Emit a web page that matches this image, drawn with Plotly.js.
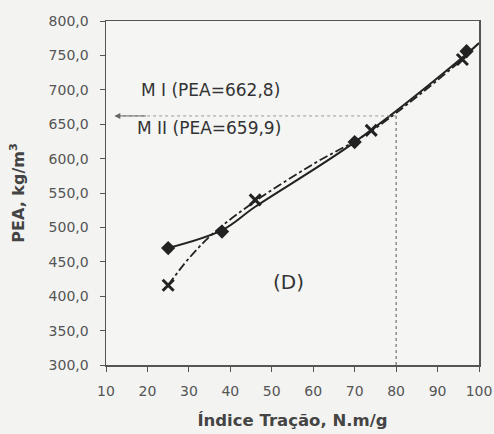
<!DOCTYPE html>
<html><head><meta charset="utf-8">
<script src="https://cdn.plot.ly/plotly-3.0.1.min.js"></script>
<style>html,body{margin:0;padding:0;background:#f3f3f1;}</style>
</head><body><div id="chart" style="width:494px;height:434px;"></div>
<script>
// Series MI (diamonds, solid)
const mI_x = [25, 38, 70, 97];
const mI_y = [470, 494, 624, 756];
// Trend line of MI
const mI_trend_x = [25, 38, 46, 70, 97, 100];
const mI_trend_y = [470, 496, 530, 624, 752, 768];
// Series MII (crosses, dash-dot)
const mII_x = [25, 46, 74, 96];
const mII_y = [416, 540, 641, 744];
const mII_trend_x = [25, 30, 36, 46, 60, 74, 96];
const mII_trend_y = [416, 455, 492, 538, 592, 640, 744];
// Reference lines
const refX = 80;
const refY = 662;
const xTicks = [10, 20, 30, 40, 50, 60, 70, 80, 90, 100];
const yTicks = [300, 350, 400, 450, 500, 550, 600, 650, 700, 750, 800];
const yTickText = yTicks.map(v => v.toFixed(1).replace('.', ','));

const ink = '#222';
const traces = [
  {x: mI_trend_x, y: mI_trend_y, mode: 'lines', line: {color: ink, width: 2, shape: 'spline'}, hoverinfo: 'skip'},
  {x: mII_trend_x, y: mII_trend_y, mode: 'lines', line: {color: ink, width: 1.8, dash: 'dashdot', shape: 'spline'}, hoverinfo: 'skip'},
  {x: mI_x, y: mI_y, mode: 'markers', marker: {symbol: 'diamond', size: 11, color: ink}},
  {x: mII_x, y: mII_y, mode: 'markers', marker: {symbol: 'x-thin', size: 11, line: {color: ink, width: 3}}},
  {x: [refX, refX], y: [300, refY], mode: 'lines', line: {color: '#555', width: 1, dash: 'dot'}, hoverinfo: 'skip'},
  {x: [refX, 12], y: [refY, refY], mode: 'lines', line: {color: '#999', width: 1, dash: 'dot'}, hoverinfo: 'skip'}
];

const fontFam = 'DejaVu Sans, sans-serif';
const layout = {
  width: 494, height: 434,
  margin: {l: 106, r: 15, t: 21, b: 69},
  paper_bgcolor: '#f3f3f1',
  plot_bgcolor: '#f5f5f3',
  showlegend: false,
  font: {family: fontFam, color: '#444', size: 14},
  xaxis: {
    range: [10, 100], tickvals: xTicks, ticks: 'outside', ticklen: 5, tickcolor: '#555',
    ticklabelstandoff: 8,
    showgrid: false, zeroline: false, showline: true, linecolor: '#555', linewidth: 1.5, mirror: true,
    tickfont: {size: 14, color: '#555'},
    title: {text: '<b>Índice Tração, N.m/g</b>', font: {size: 16.5, color: '#444'}, standoff: 16}
  },
  yaxis: {
    range: [300, 800], tickvals: yTicks, ticktext: yTickText, ticks: 'outside', ticklen: 5, tickcolor: '#555',
    ticklabelstandoff: 8,
    showgrid: false, zeroline: false, showline: true, linecolor: '#555', linewidth: 1.5, mirror: true,
    tickfont: {size: 14, color: '#555'},
    title: {text: '<b>PEA, kg/m<sup>3</sup></b>', font: {size: 16, color: '#444'}, standoff: 20}
  },
  annotations: [
    {x: 12, y: refY, ax: 20, ay: refY, axref: 'x', ayref: 'y', xref: 'x', yref: 'y', showarrow: true, arrowhead: 2, arrowsize: 1.2, arrowwidth: 1, arrowcolor: '#666', text: ''},
    {x: 18, y: 700, xref: 'x', yref: 'y', xanchor: 'left', yanchor: 'middle', showarrow: false, text: 'M I (PEA=662,8)', font: {size: 17, color: '#333'}},
    {x: 17, y: 645, xref: 'x', yref: 'y', xanchor: 'left', yanchor: 'middle', showarrow: false, text: 'M II (PEA=659,9)', font: {size: 17, color: '#333'}},
    {x: 54, y: 421, xref: 'x', yref: 'y', xanchor: 'center', yanchor: 'middle', showarrow: false, text: '(D)', font: {size: 20, color: '#333'}}
  ]
};
Plotly.newPlot('chart', traces, layout, {displayModeBar: false, staticPlot: true});
</script></body></html>
